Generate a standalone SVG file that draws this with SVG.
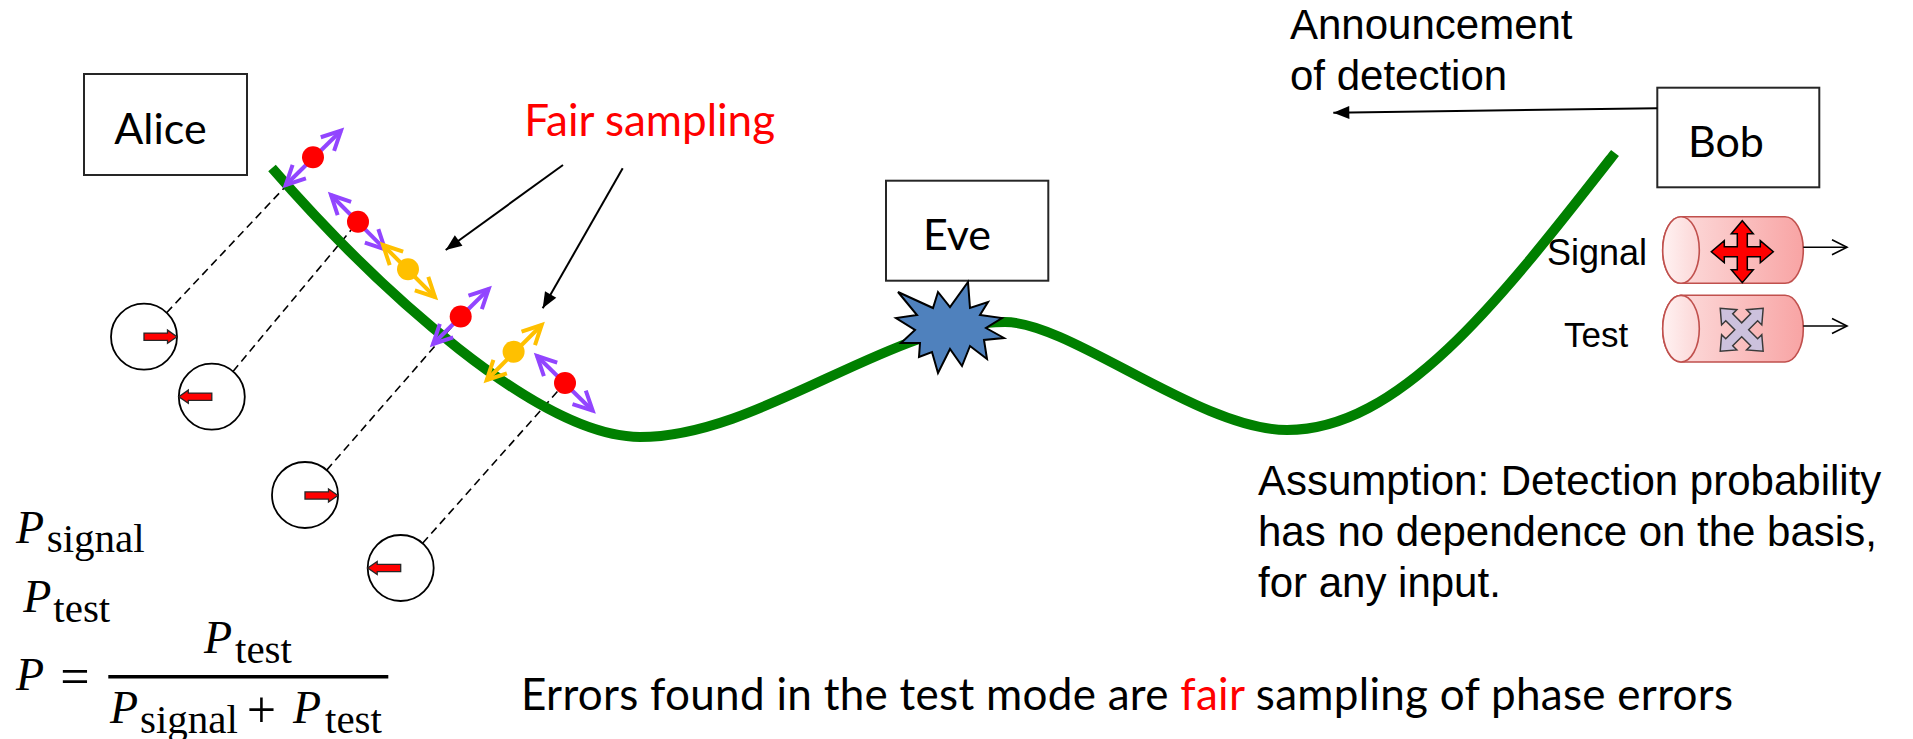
<svg xmlns="http://www.w3.org/2000/svg" width="1913" height="739" viewBox="0 0 1913 739">
  <style>
    .box { fill: #ffffff; stroke: #262626; stroke-width: 2; }
    .name { font-family: Lato, "Liberation Sans", sans-serif; font-size: 43px; fill: #000000; }
    .sans { font-family: "Liberation Sans", Arial, sans-serif; font-size: 42px; fill: #000000; }
    .math { font-family: "Liberation Serif", "Times New Roman", serif; fill: #000000; }
    .mi { font-style: italic; font-size: 46px; }
    .sub { font-size: 41px; }
    .dash { fill: none; stroke: #000000; stroke-width: 1.6; stroke-dasharray: 8 5; }
    .wheel { fill: #ffffff; stroke: #000000; stroke-width: 1.8; }
    .pol { fill: #ff0000; stroke: #262626; stroke-width: 1.3; }
    .fiber { fill: none; stroke: #008000; stroke-width: 10; stroke-linecap: butt; }
    .red { fill: #ff0000; }
    .gold { fill: #ffc000; }
    .pa { fill: none; stroke: #9245ff; stroke-width: 4; marker-start: url(#hp); marker-end: url(#hp); }
    .ya { fill: none; stroke: #ffc000; stroke-width: 4; marker-start: url(#hy); marker-end: url(#hy); }
    .ptr { fill: none; stroke: #000000; stroke-width: 2; marker-end: url(#tri); }
    .out { fill: none; stroke: #000000; stroke-width: 1.6; marker-end: url(#open); }
    .cyl { stroke: #c0504d; stroke-width: 1.6; }
  </style>
  <defs>
    <marker id="hp" markerUnits="userSpaceOnUse" orient="auto-start-reverse" viewBox="-30 -20 40 40" refX="0" refY="0" markerWidth="40" markerHeight="40" overflow="visible">
      <path d="M-19,-9.5 L0,0 L-19,9.5" fill="none" stroke="#9245ff" stroke-width="4"/>
    </marker>
    <marker id="hy" markerUnits="userSpaceOnUse" orient="auto-start-reverse" viewBox="-30 -20 40 40" refX="0" refY="0" markerWidth="40" markerHeight="40" overflow="visible">
      <path d="M-19,-9.5 L0,0 L-19,9.5" fill="none" stroke="#ffc000" stroke-width="4"/>
    </marker>
    <marker id="tri" markerUnits="userSpaceOnUse" orient="auto" viewBox="-20 -10 24 20" refX="0" refY="0" markerWidth="24" markerHeight="20" overflow="visible">
      <path d="M0,0 L-16,-6.5 L-16,6.5 Z" fill="#000000"/>
    </marker>
    <marker id="open" markerUnits="userSpaceOnUse" orient="auto" viewBox="-20 -10 24 20" refX="0" refY="0" markerWidth="24" markerHeight="20" overflow="visible">
      <path d="M-15,-7.5 L0,0 L-15,7.5" fill="none" stroke="#000000" stroke-width="1.6"/>
    </marker>
    <!-- polarisation pointer drawn inside each wheel, pointing to +x -->
    <path id="polArrow" d="M0,-3.6 H23.5 V-6.6 L33,0 L23.5,6.6 V3.6 H0 Z"/>
    <!-- four-way arrow used as basis icon -->
    <path id="cross4" d="M0,-31 L11,-18 L5,-18 L5,-5 L18,-5 L18,-11 L31,0 L18,11 L18,5 L5,5 L5,18 L11,18 L0,31 L-11,18 L-5,18 L-5,5 L-18,5 L-18,11 L-31,0 L-18,-11 L-18,-5 L-5,-5 L-5,-18 L-11,-18 Z"/>
    <linearGradient id="cylBody" x1="0" y1="0" x2="1" y2="0">
      <stop offset="0" stop-color="#fde2e2"/>
      <stop offset="1" stop-color="#f8a4a4"/>
    </linearGradient>
    <linearGradient id="cylFace" x1="0" y1="0" x2="1" y2="0">
      <stop offset="0" stop-color="#fff2f2"/>
      <stop offset="1" stop-color="#fcd6d6"/>
    </linearGradient>
  </defs>

  <!-- measurement wheels and their sight lines to the pulses -->
  <g id="wheels">
    <line class="dash" x1="166.6" y1="312.7" x2="305.5" y2="165.3"/>
    <line class="dash" x1="233" y1="371.4" x2="351" y2="230.1"/>
    <line class="dash" x1="326.7" y1="470.1" x2="453.5" y2="324.8"/>
    <line class="dash" x1="422.6" y1="543.3" x2="557.7" y2="391.2"/>
    <circle class="wheel" cx="144" cy="336.7" r="33"/>
    <use href="#polArrow" class="pol" transform="translate(144,336.7)"/>
    <circle class="wheel" cx="211.8" cy="396.7" r="33"/>
    <use href="#polArrow" class="pol" transform="translate(211.8,396.7) scale(-1,1)"/>
    <circle class="wheel" cx="305" cy="495" r="33"/>
    <use href="#polArrow" class="pol" transform="translate(305,495.5)"/>
    <circle class="wheel" cx="400.7" cy="568" r="33"/>
    <use href="#polArrow" class="pol" transform="translate(400.7,568) scale(-1,1)"/>
  </g>

  <!-- the quantum channel -->
  <g id="channel">
    <path class="fiber" d="M272,168 C380,292 540,437 640,437 C760,437 890,322 1005,322 C1070,322 1200,430 1287,430 C1400,430 1500,300 1615,153"/>
  </g>

  <!-- pulses travelling along the channel -->
  <g id="pulses">
    <line class="pa" x1="285.7" y1="185" x2="341" y2="130.7"/>
    <circle class="red" cx="313" cy="157.3" r="11"/>
    <line class="pa" x1="331" y1="195" x2="385" y2="249.3"/>
    <circle class="red" cx="358" cy="221.7" r="11"/>
    <line class="ya" x1="383" y1="245" x2="435" y2="297"/>
    <circle class="gold" cx="408" cy="269.3" r="11"/>
    <line class="pa" x1="433" y1="344" x2="488.7" y2="289"/>
    <circle class="red" cx="460.7" cy="316.5" r="11"/>
    <line class="ya" x1="486.7" y1="380" x2="541.7" y2="325"/>
    <circle class="gold" cx="513.6" cy="351.7" r="11"/>
    <line class="pa" x1="537" y1="356" x2="592.7" y2="410.7"/>
    <circle class="red" cx="565" cy="383" r="11"/>
  </g>

  <g id="alice">
    <rect class="box" x="84" y="74" width="163" height="101"/>
    <text class="name" x="160.5" y="144" text-anchor="middle">Alice</text>
  </g>

  <g id="eve">
    <rect class="box" x="886" y="180.7" width="162.3" height="100"/>
    <text class="name" x="957" y="250" text-anchor="middle">Eve</text>
    <polygon points="898,292 933,308 938,292 950,307 968,282 970,308 988,302 980,315 1002,318 986,328 1004,338 984,340 987,359 970,346 962,366 950,349 938,373 932,352 919,357 920,343 901,343 915,330 896,318 917,315" fill="#4f81bd" stroke="#000000" stroke-width="2" stroke-linejoin="miter"/>
  </g>

  <g id="bob">
    <rect class="box" x="1657.3" y="87.7" width="162" height="99.6"/>
    <text class="name" x="1726" y="156.7" text-anchor="middle">Bob</text>
  </g>

  <g id="signal-detector">
    <path class="cyl" fill="url(#cylBody)" d="M1681,216.7 H1785 A18.3,33.3 0 0 1 1785,283.3 H1681 A18.3,33.3 0 0 1 1681,216.7 Z"/>
    <ellipse class="cyl" fill="url(#cylFace)" cx="1681" cy="250" rx="18.3" ry="33.3"/>
    <use href="#cross4" transform="translate(1742.3,251.7)" fill="#ff0000" stroke="#000000" stroke-width="1.5"/>
    <text class="sans" x="1547" y="265" style="font-size:36px">Signal</text>
  </g>

  <g id="test-detector">
    <path class="cyl" fill="url(#cylBody)" d="M1681,295.3 H1785 A18.3,33.3 0 0 1 1785,362 H1681 A18.3,33.3 0 0 1 1681,295.3 Z"/>
    <ellipse class="cyl" fill="url(#cylFace)" cx="1681" cy="328.7" rx="18.3" ry="33.3"/>
    <use href="#cross4" transform="translate(1741.7,329.8) rotate(45) scale(0.98)" fill="#ccc1dd" stroke="#3a3a3a" stroke-width="1.5"/>
    <text class="sans" x="1564" y="346.7" style="font-size:35px">Test</text>
  </g>

  <g id="connectors">
    <line class="ptr" x1="563" y1="165" x2="445.7" y2="250"/>
    <line class="ptr" x1="622.7" y1="168.3" x2="542.7" y2="308.3"/>
    <line class="ptr" x1="1657.3" y1="108.3" x2="1333.3" y2="112.7"/>
    <line class="out" x1="1803.3" y1="247.3" x2="1847" y2="247.3"/>
    <line class="out" x1="1803.3" y1="326" x2="1847" y2="326"/>
  </g>

  <g id="labels">
    <text class="name" x="649.7" y="136" text-anchor="middle" style="fill:#ff0000;font-size:44px">Fair sampling</text>
    <text class="sans" x="1290" y="39.3">Announcement</text>
    <text class="sans" x="1290" y="90">of detection</text>
    <text class="sans" x="1258" y="495">Assumption: Detection probability</text>
    <text class="sans" x="1258" y="546">has no dependence on the basis,</text>
    <text class="sans" x="1258" y="597">for any input.</text>
    <text class="name" x="521" y="710" style="font-size:44px" textLength="1212" lengthAdjust="spacing">Errors found in the test mode are <tspan style="fill:#ff0000">fair</tspan> sampling of phase errors</text>
  </g>

  <g id="formula" class="math">
    <text x="16" y="542.7" class="mi">P</text>
    <text x="46.7" y="551.7" class="sub">signal</text>
    <text x="23.3" y="611.7" class="mi">P</text>
    <text x="53.3" y="621.7" class="sub">test</text>
    <text x="16" y="690" class="mi">P</text>
    <text x="75" y="694" text-anchor="middle" style="font-size:52px">=</text>
    <line x1="108.3" y1="676.7" x2="388.3" y2="676.7" stroke="#000000" stroke-width="3.5"/>
    <text x="204" y="653.3" class="mi">P</text>
    <text x="235" y="662.7" class="sub">test</text>
    <text x="110" y="723.3" class="mi">P</text>
    <text x="140" y="732.7" class="sub">signal</text>
    <text x="261.3" y="727" text-anchor="middle" style="font-size:52px">+</text>
    <text x="293" y="723.3" class="mi">P</text>
    <text x="325" y="732.7" class="sub">test</text>
  </g>
</svg>
